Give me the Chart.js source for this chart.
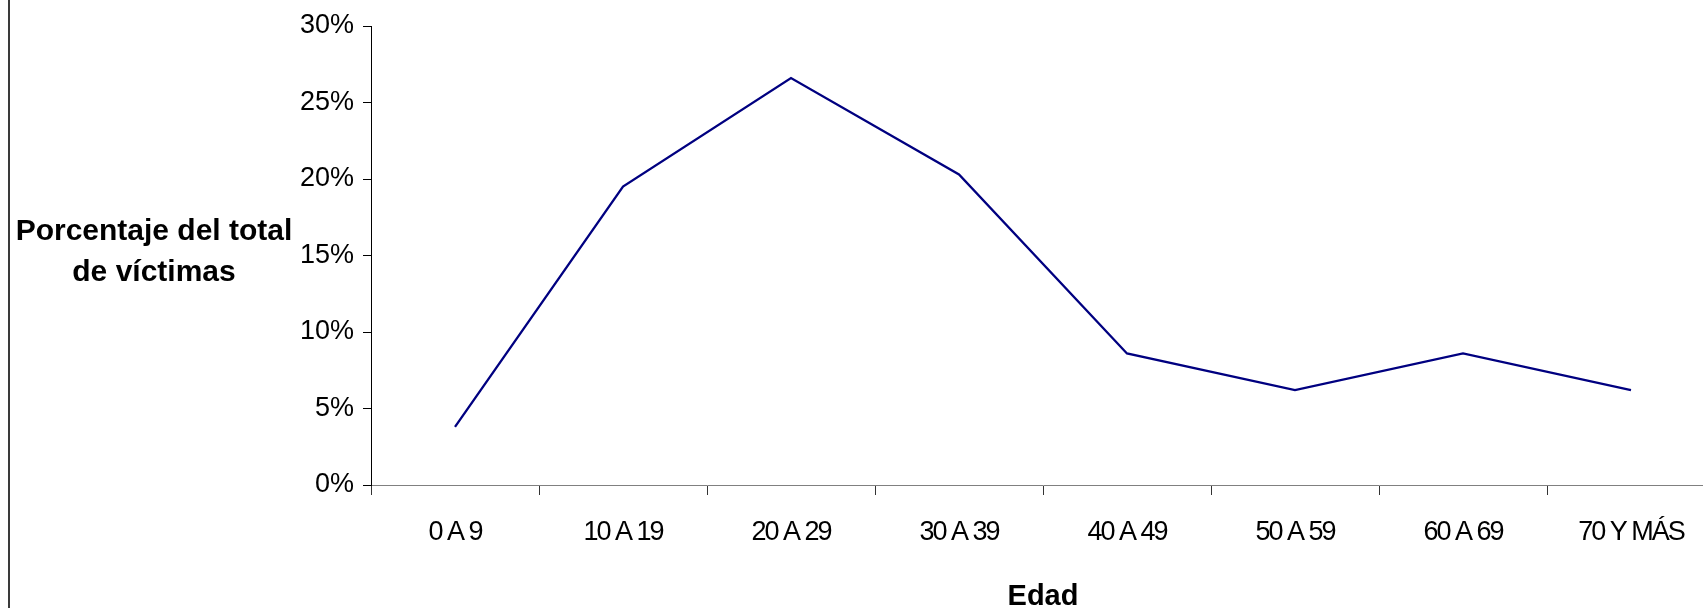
<!DOCTYPE html>
<html>
<head>
<meta charset="utf-8">
<script src="https://cdn.jsdelivr.net/npm/chart.js"></script>
<style>
html,body{margin:0;padding:0;background:#fff;overflow:hidden;width:1703px;height:608px;}
#wrap{position:relative;width:1703px;height:608px;overflow:hidden;background:#fff;}
#c{position:absolute;left:0;top:0;}
#frame{position:absolute;left:8px;top:0;width:2px;height:608px;background:#3a3a3a;}
#ytitle{position:absolute;left:0;top:209px;width:308px;text-align:center;font-family:"Liberation Sans",Arial,sans-serif;font-weight:bold;font-size:30px;line-height:41px;color:#000;}
</style>
</head>
<body>
<div id="wrap">
  <canvas id="c" width="1716" height="620"></canvas>
  <div id="frame"></div>
  <div id="ytitle">Porcentaje del total<br>de víctimas</div>
</div>
<script>
const categories = ['0 A 9', '10 A 19', '20 A 29', '30 A 39', '40 A 49', '50 A 59', '60 A 69', '70 Y MÁS'];
const victimShare = [3.8, 19.5, 26.6, 20.3, 8.6, 6.2, 8.6, 6.2];
const yTickLabels = ['0%', '5%', '10%', '15%', '20%', '25%', '30%'];
const xTitle = 'Edad';

const FONT = '"Liberation Sans", Arial, sans-serif';

const condenseX = {
  id: 'condenseX',
  beforeDraw(chart) {
    const s = chart.scales.x;
    if (s && !s._condensed) {
      const orig = s.drawLabels.bind(s);
      s.drawLabels = function (ca) {
        const ctx = this.ctx;
        ctx.save();
        ctx.letterSpacing = '-2px';
        orig(ca);
        ctx.restore();
      };
      s._condensed = true;
    }
  }
};

new Chart(document.getElementById('c'), {
  type: 'line',
  data: {
    labels: categories,
    datasets: [{
      data: victimShare,
      borderColor: '#000080',
      borderWidth: 2.3,
      pointRadius: 0,
      pointHoverRadius: 0,
      tension: 0,
      fill: false
    }]
  },
  options: {
    responsive: false,
    animation: false,
    devicePixelRatio: 1,
    layout: { padding: { top: 26, left: 0, right: 1, bottom: 0 } },
    plugins: { legend: { display: false }, tooltip: { enabled: false } },
    events: [],
    scales: {
      x: {
        type: 'category',
        offset: true,
        grid: { offset: true, drawOnChartArea: false, drawTicks: true, tickLength: 10, color: '#333333', lineWidth: 1 },
        border: { display: true, color: '#808080', width: 1 },
        ticks: { font: { family: FONT, size: 27 }, color: '#000', padding: 21, maxRotation: 0, minRotation: 0, autoSkip: false },
        title: { display: true, text: xTitle, font: { family: FONT, size: 29, weight: 'bold' }, color: '#000', padding: { top: 0, bottom: 6 } },
        afterFit(s) { s.height = 135; }
      },
      y: {
        min: 0,
        max: 30,
        ticks: {
          stepSize: 5,
          callback: (v, i) => yTickLabels[i],
          font: { family: FONT, size: 27 },
          color: '#000',
          padding: 9
        },
        grid: { drawOnChartArea: false, drawTicks: true, tickLength: 8, color: '#000', lineWidth: 1 },
        border: { display: true, color: '#000', width: 1 },
        afterFit(s) { s.width = 371; }
      }
    }
  },
  plugins: [condenseX]
});
</script>
</body>
</html>
